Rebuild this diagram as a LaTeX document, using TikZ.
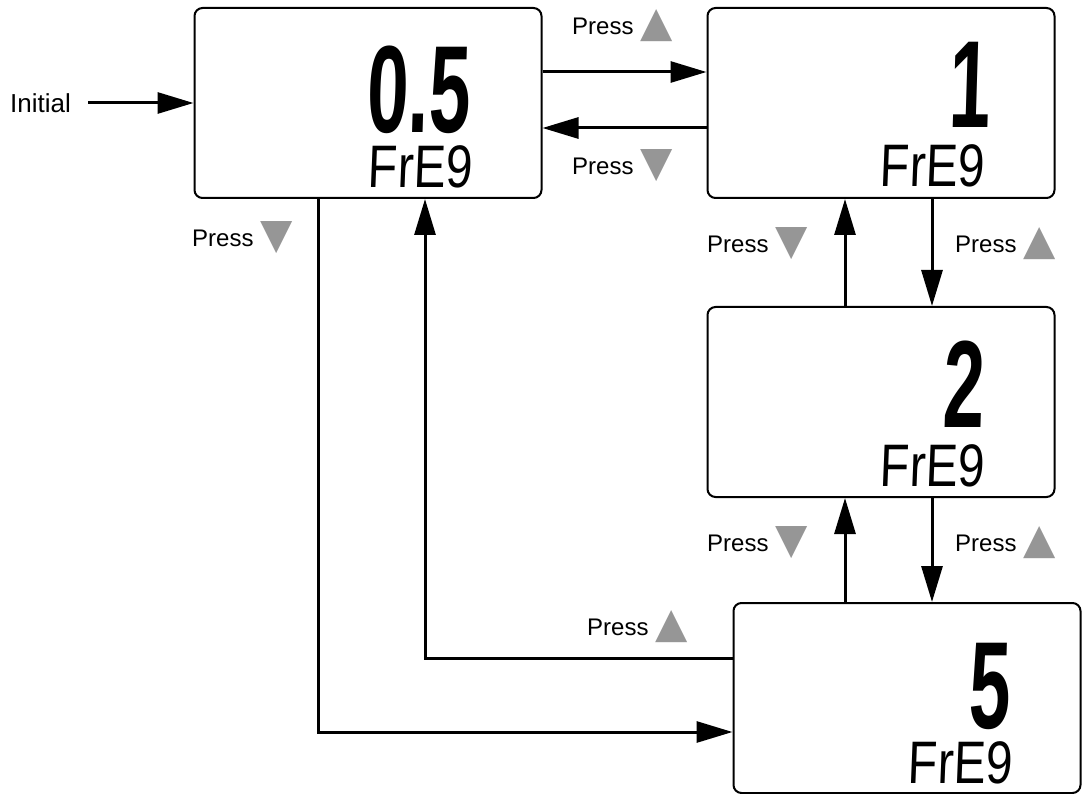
\documentclass[tikz,border=0pt]{standalone}
\usepackage{fontspec}
\setmainfont{Liberation Sans}
\newfontfamily\lcdfont{Liberation Sans}[UprightFeatures={FakeSlant=0.05},BoldFeatures={FakeSlant=0.05}]
\newfontfamily\symfont{DejaVu Sans}
\usepackage{xcolor}
\usetikzlibrary{arrows.meta,positioning}
\definecolor{keygray}{RGB}{150,150,150}
\newcommand{\btnup}{{\symfont\fontsize{42}{42}\selectfont\color{keygray}\raisebox{-2pt}{▲}}}
\newcommand{\btndown}{{\symfont\fontsize{42}{42}\selectfont\color{keygray}\raisebox{-2pt}{▼}}}
\newcommand{\lcdnum}[1]{\scalebox{0.6}[1]{#1}}
\newcommand{\lcdunit}[1]{\scalebox{0.8}[1]{#1}}

\begin{document}
\begin{tikzpicture}[x=1pt,y=-1pt,
  lcdbox/.style={draw,line width=2pt,rounded corners=8pt,minimum width=347pt,minimum height=190pt},
  bigdigit/.style={inner sep=0pt,anchor=base east,font=\lcdfont\bfseries\fontsize{124}{124}\selectfont},
  unittext/.style={inner sep=0pt,anchor=base east,font=\lcdfont\fontsize{60}{60}\selectfont},
  presslbl/.style={inner sep=0pt,anchor=base west,font=\fontsize{24}{24}\selectfont},
  flow/.style={line width=3pt,-{Triangle[length=36pt,width=21pt]}}]
\useasboundingbox (0,0) rectangle (1082,794);

% displays
\node[lcdbox] (boxA) at (368,103) {};
\node[lcdbox] (boxB) at (881,103) {};
\node[lcdbox] (boxC) at (881,402) {};
\node[lcdbox] (boxD) at (907,698) {};

\node[bigdigit] (valA) at (470,133) {\lcdnum{0.5}};
\node[unittext] (unitA) at (472,188) {\lcdunit{FrE9}};
\node[bigdigit] (valB) at (990,128) {\lcdnum{1}};
\node[unittext] (unitB) at (984,187) {\lcdunit{FrE9}};
\node[bigdigit] (valC) at (984,427) {\lcdnum{2}};
\node[unittext] (unitC) at (984,486) {\lcdunit{FrE9}};
\node[bigdigit] (valD) at (1010,728) {\lcdnum{5}};
\node[unittext] (unitD) at (1012,783) {\lcdunit{FrE9}};

% labels
\node[inner sep=0pt,anchor=west,font=\fontsize{26}{26}\selectfont] (init) at (10,103) {Initial};
\node[presslbl] (pressAB) at (572,35) {Press \btnup};
\node[presslbl] (pressBA) at (572,175) {Press \btndown};
\node[presslbl] (pressAD) at (192,247) {Press \btndown};
\node[presslbl] (pressCB) at (707,253) {Press \btndown};
\node[presslbl] (pressBC) at (955,253) {Press \btnup};
\node[presslbl] (pressDC) at (707,551) {Press \btndown};
\node[presslbl] (pressCD) at (955,551) {Press \btnup};
\node[presslbl] (pressDA) at (587,635) {Press \btnup};

\coordinate (aDown) at ([xshift=-50pt]boxA.south);
\coordinate (aUp) at ([xshift=57pt]boxA.south);
\coordinate (dIn) at ([yshift=-34pt]boxD.west);
\coordinate (dOut) at ([yshift=40pt]boxD.west);
\coordinate (cdUp) at ([xshift=-36pt]boxC.south);
\coordinate (cdDown) at ([xshift=51pt]boxC.south);

\draw[flow,shorten <=17pt] (init.east) -- (boxA.west);
\draw[flow] ([yshift=31pt]boxA.east) -- ([yshift=31pt]boxB.west);
\draw[flow] ([yshift=-25pt]boxB.west) -- ([yshift=-25pt]boxA.east);
\draw[flow] ([xshift=-36pt]boxC.north) -- ([xshift=-36pt]boxB.south);
\draw[flow] ([xshift=51pt]boxB.south) -- ([xshift=51pt]boxC.north);
\draw[flow] (cdUp |- boxD.north) -- (cdUp);
\draw[flow] (cdDown) -- (cdDown |- boxD.north);
\draw[flow] (aDown) |- (dIn);
\draw[flow] (dOut) -| (aUp);
\end{tikzpicture}
\end{document}
